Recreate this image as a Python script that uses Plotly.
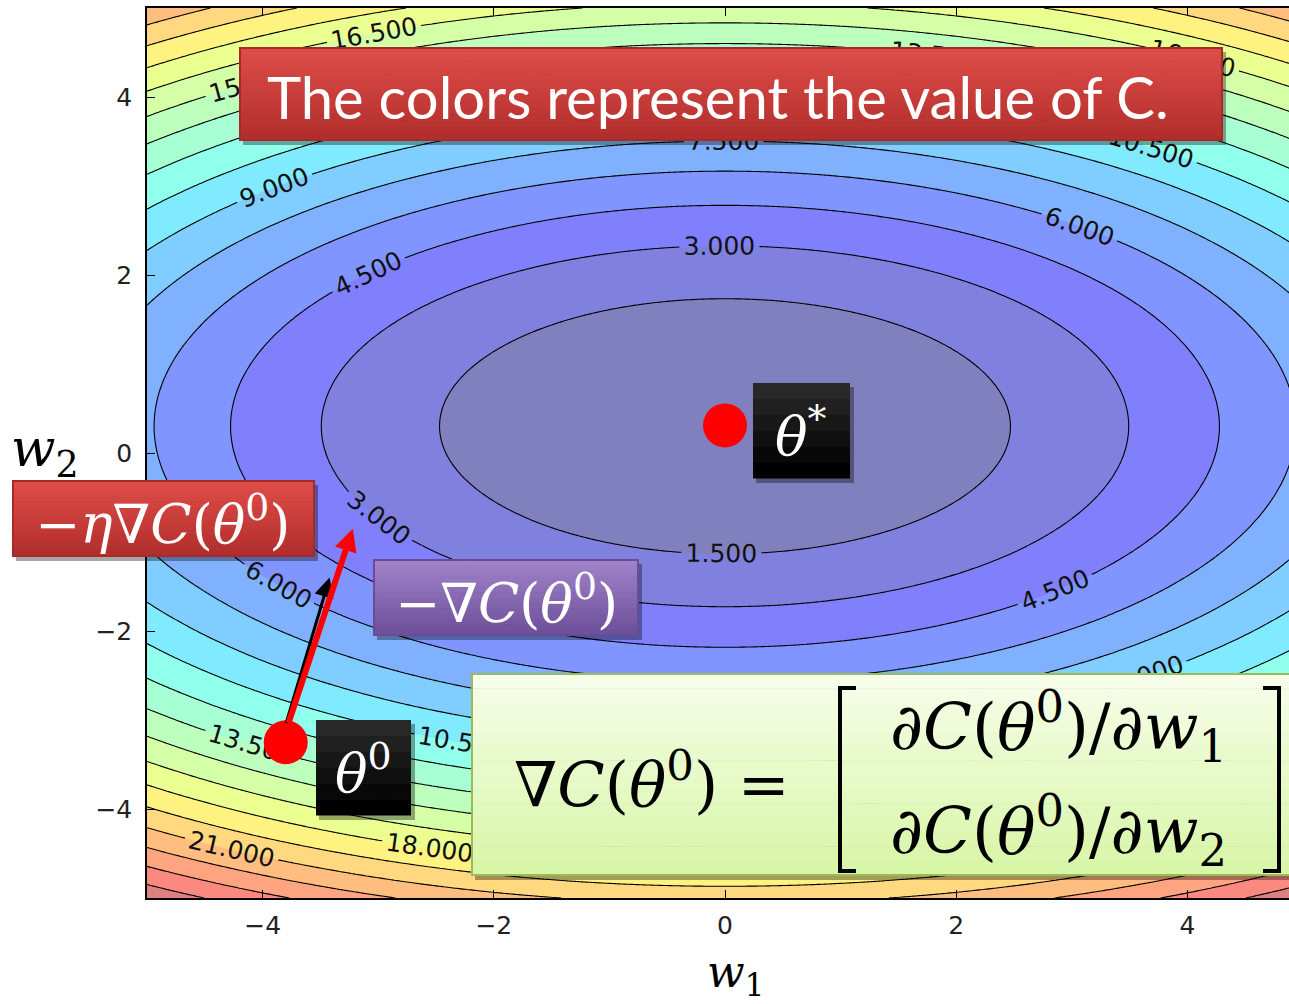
import numpy as np
import plotly.graph_objects as go

# ---------------- data ----------------
# Cost surface C(w1, w2): elliptical bowl fitted to the labelled contour lines
# (1.5 ... 24.0 labels) -> C = A*(w1-c1)^2 + B*(w2-c2)^2
bowl_center = [0.0, 0.3]
bowl_coef = [0.246, 0.73]
contour_levels = dict(start=1.5, end=27.0, size=1.5)

theta_star = [0.0, 0.31]          # optimum (red dot)
theta0 = [-3.80, -3.25]           # starting point (red dot)
neg_grad_tip = [-3.42, -1.40]     # tip of black arrow  (-grad C)
neg_eta_grad_tip = [-3.22, -0.85] # tip of red arrow (-eta grad C)

x_ticks = [-4, -2, 0, 2, 4]
y_ticks = [-4, -2, 0, 2, 4]

w1 = np.linspace(-5, 5, 301)
w2 = np.linspace(-5, 5, 301)
W1, W2 = np.meshgrid(w1, w2)
C = bowl_coef[0] * (W1 - bowl_center[0]) ** 2 + bowl_coef[1] * (W2 - bowl_center[1]) ** 2

# ---------------- colours: matplotlib "jet" at alpha 0.5 on white ----------------
def seg(points, t):
    xs = [p[0] for p in points]
    ys = [p[1] for p in points]
    return float(np.interp(t, xs, ys))

JR = [(0, 0), (0.35, 0), (0.66, 1), (0.89, 1), (1, 0.5)]
JG = [(0, 0), (0.125, 0), (0.375, 1), (0.64, 1), (0.91, 0), (1, 0)]
JB = [(0, 0.5), (0.11, 1), (0.34, 1), (0.65, 0), (1, 0)]
cscale = []
for t in np.linspace(0, 1, 41):
    r, g, b = seg(JR, t), seg(JG, t), seg(JB, t)
    r, g, b = [int(round(255 * (0.5 * v + 0.5))) for v in (r, g, b)]
    cscale.append([float(t), f"rgb({r},{g},{b})"])

# ---------------- figure ----------------
W, H = 1289, 1004
PL, PR, PT, PB = 147, 1289, 8, 898
MATH = "DejaVu Serif"

def fx(px):
    return (px - PL) / (PR - PL)

def fy(py):
    return (PB - py) / (PB - PT)

fig = go.Figure()
fig.add_trace(go.Contour(
    x=w1, y=w2, z=C,
    contours=dict(start=contour_levels["start"], end=contour_levels["end"],
                  size=contour_levels["size"], coloring="fill",
                  showlabels=True, labelformat=".3f",
                  labelfont=dict(family="DejaVu Sans", size=25, color="#111")),
    colorscale=cscale, showscale=False,
    line=dict(color="black", width=1.1),
    hoverinfo="skip",
))
fig.add_trace(go.Scatter(
    x=[theta_star[0], theta0[0]], y=[theta_star[1], theta0[1]],
    mode="markers", marker=dict(size=44, color="red", line=dict(width=0)),
    hoverinfo="skip", showlegend=False,
))

shapes = []
annotations = []

def grad_box(x0, y0, x1, y1, top, bot, border=None, n=14, shadow=True):
    if shadow:
        shapes.append(dict(type="rect", xref="paper", yref="paper",
                           x0=fx(x0 + 3), x1=fx(x1 + 4), y0=fy(y0 + 4), y1=fy(y1 + 5),
                           fillcolor="rgba(0,0,0,0.35)", line=dict(width=0), layer="above"))
    for i in range(n):
        t = i / (n - 1)
        c = [int(round(top[k] + (bot[k] - top[k]) * t)) for k in range(3)]
        ya = y0 + (y1 - y0) * i / n
        yb = y0 + (y1 - y0) * (i + 1) / n
        shapes.append(dict(type="rect", xref="paper", yref="paper",
                           x0=fx(x0), x1=fx(x1), y0=fy(ya), y1=fy(yb + 0.5),
                           fillcolor=f"rgb({c[0]},{c[1]},{c[2]})",
                           line=dict(width=0), layer="above"))
    if border:
        shapes.append(dict(type="rect", xref="paper", yref="paper",
                           x0=fx(x0), x1=fx(x1), y0=fy(y0), y1=fy(y1),
                           fillcolor="rgba(0,0,0,0)", line=dict(color=border, width=2),
                           layer="above"))

def text(px, py, s, size, color="white", family=MATH):
    annotations.append(dict(xref="paper", yref="paper", x=fx(px), y=fy(py),
                            text=s, showarrow=False, xanchor="center", yanchor="middle",
                            font=dict(family=family, size=size, color=color)))

# title box
grad_box(240, 48, 1222, 140, (222, 76, 72), (178, 46, 44), border="#a82a28")
text(718, 96, "The colors represent the value of C.", 58, family="Lato")

# theta* box and theta0 box
grad_box(753, 383, 850, 478, (40, 40, 40), (0, 0, 0), n=6)
text(801, 432, "<i>θ</i><sup>*</sup>", 54)
grad_box(316, 720, 411, 815, (40, 40, 40), (0, 0, 0), n=6)
text(363, 769, "<i>θ</i><sup>0</sup>", 54)

# -eta grad box
grad_box(13, 481, 314, 556, (222, 76, 72), (178, 46, 44), border="#a82a28")
text(162, 520, "<i>−η∇C</i>(<i>θ</i><sup>0</sup>)", 54)

# -grad box
grad_box(374, 560, 638, 635, (160, 130, 200), (110, 80, 155), border="#6a4c96")
text(506, 599, "<i>−∇C</i>(<i>θ</i><sup>0</sup>)", 54)

# formula box
grad_box(472, 674, 1292, 875, (246, 253, 232), (216, 246, 168), border="#9bbb59")
text(652, 780, "<i>∇C</i>(<i>θ</i><sup>0</sup>) =", 62, color="black")
text(1058, 726, "<i>∂C</i>(<i>θ</i><sup>0</sup>)/<i>∂w</i><sub>1</sub>", 64, color="black")
text(1058, 830, "<i>∂C</i>(<i>θ</i><sup>0</sup>)/<i>∂w</i><sub>2</sub>", 64, color="black")
# matrix brackets
for xa, xb in ((840, 856), (1279, 1263)):
    shapes.append(dict(type="path", xref="paper", yref="paper",
                       path=f"M {fx(xb)},{fy(688)} L {fx(xa)},{fy(688)} L {fx(xa)},{fy(871)} L {fx(xb)},{fy(871)}",
                       line=dict(color="black", width=4), layer="above"))

# arrows (black under red)
annotations.append(dict(xref="x", yref="y", axref="x", ayref="y",
                        x=neg_grad_tip[0], y=neg_grad_tip[1], ax=theta0[0], ay=theta0[1] + 0.2,
                        text="", showarrow=True, arrowhead=2, arrowsize=1.3, arrowwidth=3,
                        arrowcolor="black", standoff=0, startstandoff=0))
annotations.append(dict(xref="x", yref="y", axref="x", ayref="y",
                        x=neg_eta_grad_tip[0], y=neg_eta_grad_tip[1], ax=theta0[0] + 0.02, ay=theta0[1] + 0.2,
                        text="", showarrow=True, arrowhead=2, arrowsize=0.75, arrowwidth=6,
                        arrowcolor="red", standoff=0, startstandoff=0))

# axis titles
text(735, 974, "<i>w</i><sub>1</sub>", 44, color="black")
text(45, 452, "<i>w</i><sub>2</sub>", 52, color="black")

fig.update_layout(
    width=W, height=H,
    margin=dict(l=PL, r=W - PR, t=PT, b=H - PB, pad=0),
    paper_bgcolor="white", plot_bgcolor="white",
    shapes=shapes, annotations=annotations, showlegend=False,
    xaxis=dict(range=[-5, -5 + (PR - PL) / 115.6], tickvals=x_ticks, ticks="inside", ticklen=8,
               tickcolor="black", showline=True, linecolor="black", linewidth=1.5, mirror="ticks",
               showgrid=False, zeroline=False, ticklabelstandoff=4,
               tickfont=dict(family="DejaVu Sans", size=25, color="#222")),
    yaxis=dict(range=[-5, 5], tickvals=y_ticks, ticks="inside", ticklen=8,
               tickcolor="black", showline=True, linecolor="black", linewidth=1.5, mirror=False,
               showgrid=False, zeroline=False, ticklabelstandoff=8,
               tickfont=dict(family="DejaVu Sans", size=25, color="#222")),
)

fig.write_html("out.html", config={"displayModeBar": False},
               post_script="document.body.style.margin='0';document.body.style.overflow='hidden';")
